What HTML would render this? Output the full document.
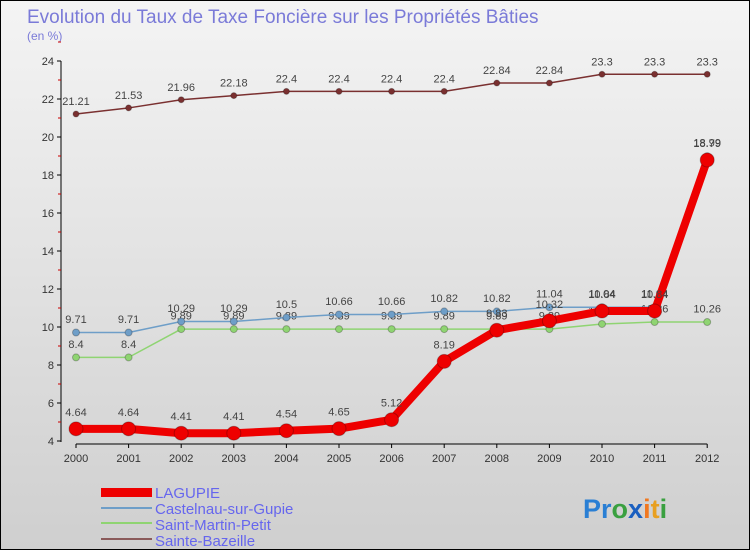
<!DOCTYPE html>
<html><head><meta charset="utf-8"><style>
body{margin:0;width:750px;height:550px;overflow:hidden;font-family:"Liberation Sans",sans-serif}
#wrap{position:relative;width:748px;height:548px;border:1px solid #000;background:linear-gradient(#f4f4f4,#cfcfcf)}
</style></head><body>
<div id="wrap">
<svg id="svg" width="748" height="548">
<text x="26" y="22" font-size="19" fill="#7a7ad8">Evolution du Taux de Taxe Foncière sur les Propriétés Bâties</text>
<text x="26" y="39" font-size="12" fill="#7a7ad8">(en %)</text>
<g id="axes"></g><g id="series"></g>
<g>
<rect x="100" y="487" width="51" height="9" fill="#ee0000"/>
<text x="154" y="497" font-size="15" fill="#6666ee">LAGUPIE</text>
<line x1="100" y1="507" x2="151" y2="507" stroke="#6e9ec8" stroke-width="2"/>
<text x="154" y="513" font-size="15" fill="#6666ee">Castelnau-sur-Gupie</text>
<line x1="100" y1="522" x2="151" y2="522" stroke="#8fd472" stroke-width="2"/>
<text x="154" y="529" font-size="15" fill="#6666ee">Saint-Martin-Petit</text>
<line x1="100" y1="538" x2="151" y2="538" stroke="#8a5a5a" stroke-width="2"/>
<text x="154" y="545" font-size="15" fill="#6666ee">Sainte-Bazeille</text>
</g>
<text x="582" y="517" font-size="27" font-weight="bold"><tspan fill="#2a7fd4">Pr</tspan><tspan fill="#3aa040">o</tspan><tspan fill="#1a5fc0">x</tspan><tspan fill="#f07820">i</tspan><tspan fill="#e8a020">t</tspan><tspan fill="#3aa040">i</tspan></text>
</svg></div>
<script>
const years=[2000,2001,2002,2003,2004,2005,2006,2007,2008,2009,2010,2011,2012];
const yTicks=[4,6,8,10,12,14,16,18,20,22,24];
const lagupie=[4.64,4.64,4.41,4.41,4.54,4.65,5.12,8.19,9.83,10.32,10.84,10.84,18.79];
const castelnau=[9.71,9.71,10.29,10.29,10.5,10.66,10.66,10.82,10.82,11.04,11.04,11.04,18.99];
const saintMartin=[8.4,8.4,9.89,9.89,9.89,9.89,9.89,9.89,9.89,9.89,10.16,10.26,10.26];
const sainteBazeille=[21.21,21.53,21.96,22.18,22.4,22.4,22.4,22.4,22.84,22.84,23.3,23.3,23.3];
const NS="http://www.w3.org/2000/svg";
const xs=i=>75+i*52.6, ys=v=>440-(v-4)*19;
function mk(t,a,p){const e=document.createElementNS(NS,t);for(const k in a)e.setAttribute(k,a[k]);p.appendChild(e);return e;}
const ax=document.getElementById('axes'),sg=document.getElementById('series');
let l=mk('line',{x1:60,y1:ys(24),x2:60,y2:ys(4)+1,stroke:'#000'},ax);

l=mk('line',{x1:75,y1:ys(4)+3,x2:xs(12),y2:ys(4)+3,stroke:'#000'},ax);

yTicks.forEach(v=>{mk('line',{x1:56,y1:ys(v),x2:60,y2:ys(v),stroke:'#000'},ax);
 mk('line',{x1:57,y1:ys(v+1),x2:60,y2:ys(v+1),stroke:'#c00'},ax);
 const t=mk('text',{x:53,y:ys(v)+4,'font-size':11,fill:'#333','text-anchor':'end'},ax);t.textContent=v;
 });
years.forEach((y,i)=>{mk('line',{x1:xs(i),y1:ys(4)+3,x2:xs(i),y2:ys(4)+7,stroke:'#000'},ax);
 const t=mk('text',{x:xs(i),y:ys(4)+21,'font-size':11,fill:'#333','text-anchor':'middle'},ax);t.textContent=y;
 });
function draw(data,col,w,r,name){const g=mk('g',{},sg);
 
 mk('polyline',{points:data.map((v,i)=>xs(i)+','+ys(v)).join(' '),fill:'none',stroke:col,'stroke-width':w,'stroke-linejoin':'round'},g);
 data.forEach((v,i)=>{const c=mk('circle',{cx:xs(i),cy:ys(v),r:r,fill:col,stroke:'rgba(0,0,0,0.25)'},g);
  
  const t=mk('text',{x:xs(i),y:ys(v)-r-6,'font-size':11,fill:'#444','text-anchor':'middle'},g);t.textContent=v;
  });}
draw(sainteBazeille,'#7a3030',1.5,3,'series-sainte-bazeille');
draw(saintMartin,'#8fd472',1.5,3.5,'series-saint-martin');
draw(castelnau,'#6e9ec8',1.5,3.5,'series-castelnau');
draw(lagupie,'#ee0000',8,7,'series-lagupie');
</script></body></html>
